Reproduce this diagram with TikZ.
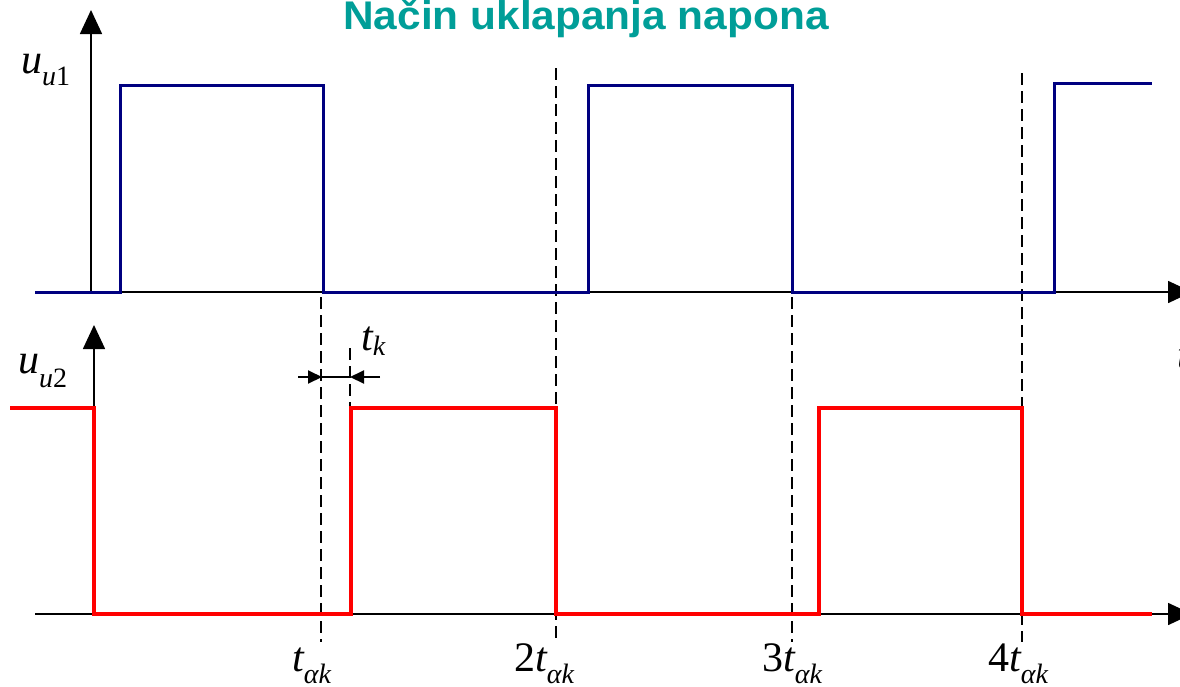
\documentclass[tikz,border=0pt]{standalone}
\usepackage{fontspec}
\setmainfont{Liberation Serif}
\newfontfamily\titlefont{Liberation Sans}
\usetikzlibrary{arrows.meta}
\definecolor{titleteal}{HTML}{009E98}
\definecolor{sigblue}{HTML}{000080}
\definecolor{sigred}{HTML}{FF0000}
\newcommand\mainsz{\fontsize{42}{44}\selectfont}
\newcommand\subsz{\fontsize{28}{30}\selectfont}
\newcommand\lbl[3]{{\mainsz #1}\raisebox{-#3}{\subsz\itshape #2}}
\tikzset{
  axis/.style={line width=1.6pt,-{Triangle[length=24pt,width=22pt]}},
  sigA/.style={line width=3pt,color=sigblue,line join=miter},
  sigB/.style={line width=3.5pt,color=sigred,line join=miter},
  guide/.style={line width=1.5pt,dash pattern=on 12pt off 6pt},
  txt/.style={inner sep=0pt,anchor=base west},
  dim/.style={line width=2pt,-{Triangle[length=14pt,width=13pt]}}
}
\begin{document}
\begin{tikzpicture}[x=1pt,y=-1pt]
\useasboundingbox (0,0) rectangle (1180,686);
% title
\node[inner sep=0pt,anchor=base,text=titleteal,xscale=1.06] (title) at (586,29) {\titlefont\bfseries\fontsize{40}{42}\selectfont Način uklapanja napona};
% top axes
\coordinate (a1o) at (91,292);
\coordinate (a1y) at (91,10);
\coordinate (a1l) at (35,292);
\coordinate (a1x) at (1192,292);
\draw[axis] (a1o) -- (a1y);
\draw[axis] (a1l) -- (a1x);
% bottom axes
\coordinate (a2o) at (94,408);
\coordinate (a2y) at (94,325);
\coordinate (a2l) at (35,614);
\coordinate (a2x) at (1192,614);
\draw[axis] (a2o) -- (a2y);
\draw[axis] (a2l) -- (a2x);
% guides
\coordinate (g1t) at (321,297); \coordinate (g1b) at (321,642);
\coordinate (g2t) at (556,68);  \coordinate (g2b) at (556,642);
\coordinate (g3t) at (792,297); \coordinate (g3b) at (792,642);
\coordinate (g4t) at (1022,73); \coordinate (g4b) at (1022,642);
\coordinate (gkt) at (350,348); \coordinate (gkb) at (350,406);
\draw[guide] (g1t) -- (g1b);
\draw[guide] (g2t) -- (g2b);
\draw[guide] (g3t) -- (g3b);
\draw[guide] (g4t) -- (g4b);
\draw[guide] (gkt) -- (gkb);
% signal 1
\draw[sigA] (35,292) -- (120,292) -- (120,85) -- (323,85) -- (323,292) -- (588,292) -- (588,85) -- (792,85) -- (792,292) -- (1054,292) -- (1054,83) -- (1152,83);
% signal 2
\draw[sigB] (10,408) -- (94,408) -- (94,614) -- (351,614) -- (351,408) -- (556,408) -- (556,614) -- (819,614) -- (819,408) -- (1022,408) -- (1022,614) -- (1152,614);
% t_k dimension
\coordinate (dL) at (298,377);
\coordinate (dR) at (380,377);
\coordinate (dLt) at (322,377);
\coordinate (dRt) at (350,377);
\draw[dim] (dL) -- (dLt);
\draw[dim] (dR) -- (dRt);
\draw[line width=2pt] (dLt) -- (dRt);
% labels
\node[txt] (u1) at (21,73) {\lbl{\itshape u}{u\upshape 1}{12pt}};
\node[txt] (u2) at (18,373) {\lbl{\itshape u}{u\upshape 2}{14pt}};
\node[txt] (tk) at (361,350) {\lbl{\itshape t}{k}{5pt}};
\node[txt] (t1) at (292,671) {\lbl{\itshape t}{αk}{12pt}};
\node[txt] (t2) at (514,671) {\lbl{2\itshape t}{αk}{12pt}};
\node[txt] (t3) at (762,671) {\lbl{3\itshape t}{αk}{12pt}};
\node[txt] (t4) at (988,671) {\lbl{4\itshape t}{αk}{12pt}};
\node[txt] (tt) at (1177,368) {\mainsz\itshape t};
\end{tikzpicture}
\end{document}
